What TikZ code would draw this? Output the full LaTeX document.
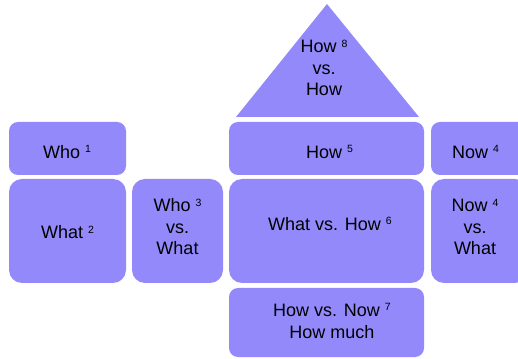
\documentclass[tikz,border=0pt]{standalone}
\usepackage{fontspec}
\setmainfont{Liberation Sans}
\definecolor{boxfill}{RGB}{147,137,250}
\newcommand\sps[1]{\raisebox{5.6pt}{\fontsize{10.5}{12}\selectfont #1}}
\tikzset{
  blk/.style={fill=boxfill, draw=none, rounded corners=9pt},
  bigblk/.style={fill=boxfill, draw=none, rounded corners=13pt},
  lbl/.style={font=\fontsize{18}{21.5}\selectfont, align=center, inner sep=0pt, text=black}
}
\begin{document}
\begin{tikzpicture}[x=1pt,y=1pt]
\useasboundingbox (0,0) rectangle (518,358);
\clip (0,0) rectangle (518,358);
% boxes
\path[blk] (9,183) rectangle (126,236);
\path[bigblk] (9,75) rectangle (126,179);
\path[bigblk] (132,75) rectangle (223,179);
\path[blk] (229,183) rectangle (424,236);
\path[blk] (431,183) rectangle (528,236);
\path[bigblk] (229,75) rectangle (424,179);
\path[bigblk] (431,75) rectangle (528,179);
\path[blk] (229,1) rectangle (424,70);
\fill[boxfill] (327,354) -- (236,241) -- (419,241) -- cycle;
% labels
\node[lbl] (who1) at (67,206) {Who \sps{1}};
\node[lbl] (what2) at (67.5,125.5) {What \sps{2}};
\node[lbl] (who3) at (177.5,131) {Who \sps{3}\\vs.\\What};
\node[lbl] (how5) at (329.5,206) {How \sps{5}};
\node[lbl] (now4) at (475.5,206) {Now \sps{4}};
\node[lbl] (whatvshow) at (330,134) {What vs. How \sps{6}};
\node[lbl] (nowvswhat) at (475,131) {Now \sps{4}\\vs.\\What};
\node[lbl] (howvsnow) at (332,37) {How vs. Now \sps{7}\\How much};
\node[lbl] (howvshow) at (324,290) {How \sps{8}\\vs.\\How};
\end{tikzpicture}
\end{document}
